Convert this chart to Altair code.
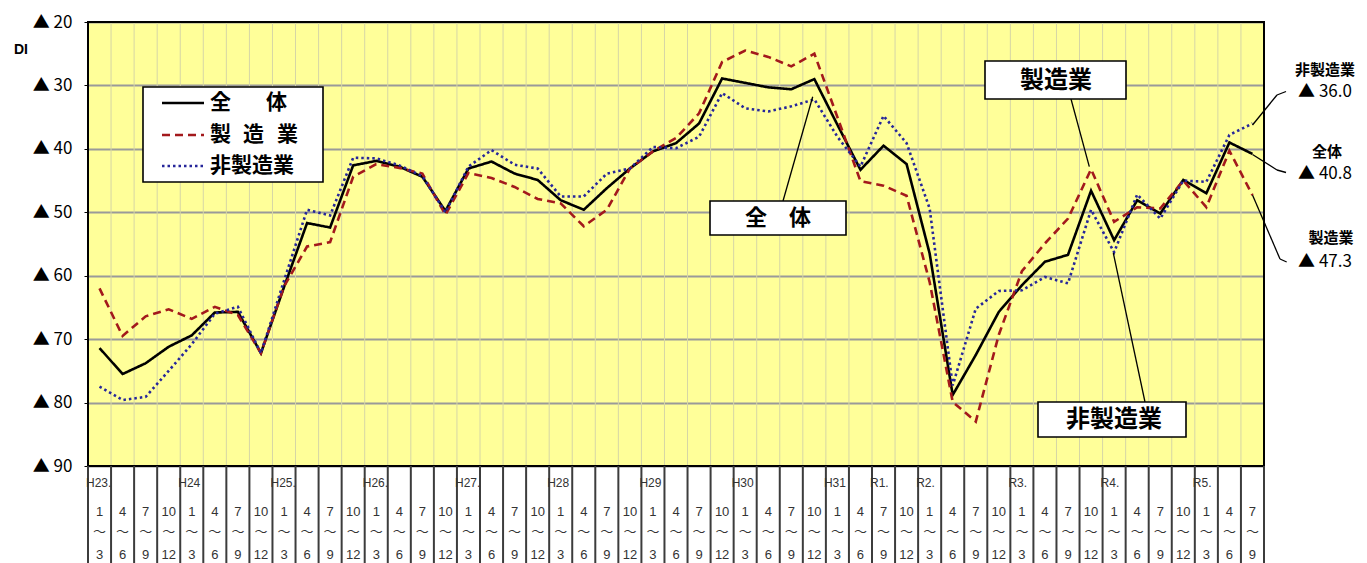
import altair as alt
import pandas as pd

# ---- data -------------------------------------------------------------
series_names = ["全体", "製造業", "非製造業"]

period_start = ["1", "4", "7", "10"] * 12 + ["1", "4", "7"]
period_end = ["3", "6", "9", "12"] * 12 + ["3", "6", "9"]
era_labels = ["H23.", "", "", "", "H24", "", "", "", "H25.", "", "", "", "H26.", "", "", "",
              "H27.", "", "", "", "H28", "", "", "", "H29", "", "", "", "H30", "", "", "",
              "H31", "", "R1.", "", "R2.", "", "", "", "R3.", "", "", "", "R4.", "", "", "",
              "R5.", "", ""]

overall = [71.4, 75.5, 73.8, 71.2, 69.4, 65.8, 65.7, 72.2, 61.8, 51.7, 52.4, 42.6, 41.9,
           42.8, 44.4, 49.8, 43.1, 42.0, 43.9, 44.9, 48.1, 49.6, 46.2, 43.1, 40.4, 39.1,
           36.0, 28.9, 29.6, 30.3, 30.6, 29.0, 36.2, 43.3, 39.5, 42.4, 56.5, 78.8, 72.5,
           65.7, 61.5, 57.8, 56.7, 46.6, 54.4, 48.1, 50.2, 44.9, 47.0, 39.0, 40.8]
manufacturing = [62.0, 69.5, 66.4, 65.3, 66.8, 64.9, 66.2, 72.2, 61.7, 55.4, 54.7, 44.4, 42.4,
                 43.0, 43.9, 50.4, 43.8, 44.6, 46.0, 47.9, 48.6, 52.2, 49.6, 43.1, 40.4, 38.3,
                 34.4, 26.3, 24.5, 25.5, 27.0, 25.0, 35.0, 45.1, 45.8, 47.4, 61.0, 79.9, 83.0,
                 69.3, 59.3, 54.9, 51.0, 43.2, 51.5, 49.2, 49.4, 45.0, 49.2, 40.3, 47.3]
non_manufacturing = [77.5, 79.6, 79.1, 75.0, 70.8, 66.0, 64.9, 72.2, 60.8, 49.6, 50.5, 41.4, 41.5,
                     42.6, 44.3, 50.0, 42.8, 40.2, 42.5, 43.1, 47.5, 47.5, 43.9, 43.1, 39.7, 39.9,
                     38.1, 31.2, 33.6, 34.1, 33.3, 32.2, 38.1, 42.8, 34.8, 39.1, 49.4, 77.3, 65.2,
                     62.4, 62.3, 60.2, 61.2, 49.6, 56.3, 47.2, 51.0, 45.0, 45.2, 37.8, 36.0]
y_ticks = [20, 30, 40, 50, 60, 70, 80, 90]

# ---- frames -----------------------------------------------------------
n = len(overall)
idx = list(range(n))
df = pd.DataFrame({
    "i": idx * 3,
    "v": overall + manufacturing + non_manufacturing,
    "s": [series_names[0]] * n + [series_names[1]] * n + [series_names[2]] * n,
})
lab = pd.DataFrame({"i": idx, "a": period_start, "b": period_end, "era": era_labels})
bounds_all = pd.DataFrame({"b": [k - 0.5 for k in range(n + 1)]})
bounds_in = pd.DataFrame({"b": [k + 0.5 for k in range(n - 1)]})
one = pd.DataFrame({"k": [0]})

W, H = 1176, 444
JP = "Noto Sans CJK JP"
LAT = "Liberation Sans, Noto Sans CJK JP"
TRI = "Noto Sans CJK JP, Liberation Sans"
BLACK, RED, BLUE = "#000000", "#A3191C", "#26269A"
DASH = {BLACK: [1, 0], RED: [8, 5], BLUE: [2.5, 3]}

xs = alt.Scale(domain=[-0.5, n - 0.5], nice=False, zero=False)
ys = alt.Scale(domain=[20, 90], reverse=True, nice=False, zero=False)

yax = alt.Axis(values=y_ticks, labelExpr="'▲ ' + datum.value", labelFont=TRI,
               labelFontSize=17, labelColor="#000", labelPadding=12, labelOverlap=False,
               tickSize=4, tickColor="#000", tickWidth=1, domain=False, grid=True,
               gridColor="#9a9a9a", gridWidth=2, title=None)


def series_layer(name, color):
    return alt.Chart(df).transform_filter(alt.datum.s == name).mark_line(
        color=color, strokeWidth=2.6, strokeDash=DASH[color]
    ).encode(
        x=alt.X("i:Q", scale=xs, axis=None),
        y=alt.Y("v:Q", scale=ys, axis=yax),
    )


def seg(x1, y1, x2, y2, w=1.3):
    return alt.Chart(one).mark_rule(color="#000", strokeWidth=w).encode(
        x=alt.value(x1), y=alt.value(y1), x2=alt.value(x2), y2=alt.value(y2))


def sample(x1, x2, y, color):
    return alt.Chart(one).mark_rule(color=color, strokeWidth=2.6, strokeDash=DASH[color]).encode(
        x=alt.value(x1), y=alt.value(y), x2=alt.value(x2), y2=alt.value(y))


def box(x1, y1, x2, y2):
    return alt.Chart(one).mark_rect(fill="white", stroke="#000", strokeWidth=1.6).encode(
        x=alt.value(x1), x2=alt.value(x2), y=alt.value(y1), y2=alt.value(y2))


def txt(x, y, s, size, font=JP, weight="bold", align="center", color="#000"):
    return alt.Chart(one).mark_text(text=s, fontSize=size, font=font, fontWeight=weight,
                                    align=align, baseline="middle", color=color).encode(
        x=alt.value(x), y=alt.value(y))


# plot-area vertical faint grid
vgrid = alt.Chart(bounds_in).mark_rule(color="#d6d6a6", strokeWidth=1).encode(
    x=alt.X("b:Q", scale=xs, axis=None), y=alt.value(0), y2=alt.value(H))

lines = [series_layer(series_names[0], BLACK),
         series_layer(series_names[1], RED),
         series_layer(series_names[2], BLUE)]

border = alt.Chart(one).mark_rect(filled=False, stroke="#000", strokeWidth=2).encode(
    x=alt.value(0), x2=alt.value(W), y=alt.value(0), y2=alt.value(H))

# table below the plot
seps = alt.Chart(bounds_all).mark_rule(color="#3c3c3c", strokeWidth=2).encode(
    x=alt.X("b:Q", scale=xs, axis=None), y=alt.value(H), y2=alt.value(H + 97))
lab_base = alt.Chart(lab).encode(x=alt.X("i:Q", scale=xs, axis=None))
row_a = lab_base.mark_text(fontSize=13, font=LAT, color="#333").encode(
    y=alt.value(H + 46), text="a:N")
row_t = lab_base.mark_text(fontSize=13, font=JP, color="#333", text="～").encode(
    y=alt.value(H + 66))
row_b = lab_base.mark_text(fontSize=13, font=LAT, color="#333").encode(
    y=alt.value(H + 89), text="b:N")
row_era = lab_base.transform_filter(alt.datum.era != "").mark_text(
    fontSize=12, font=LAT, color="#333", align="left", dx=-13.5).encode(
    y=alt.value(H + 17), text="era:N")

# legend
legend = [
    box(55, 65, 235, 160),
    sample(74, 116, 81, BLACK), sample(74, 116, 113, RED), sample(74, 116, 144, BLUE),
    txt(122, 81, "全", 21, align="left"), txt(178, 81, "体", 21, align="left"),
    txt(122, 113, "製", 21, align="left"), txt(155, 113, "造", 21, align="left"),
    txt(189, 113, "業", 21, align="left"),
    txt(122, 144, "非製造業", 21, align="left"),
]

# callouts
callouts = [
    seg(695, 179, 724.7, 74.7), box(622, 179, 758, 213), txt(690, 196, "全　体", 22),
    seg(983, 77, 1001.3, 144.7), box(897, 39, 1038, 77), txt(968, 59, "製造業", 24),
    seg(1057, 380, 1025.3, 231), box(950, 380, 1098, 415), txt(1026, 398, "非製造業", 24),
]

# right side labels
right = [
    seg(1164.5, 103, 1189, 73), seg(1189, 73, 1198, 69.5),
    txt(1237, 48, "非製造業", 15), txt(1237, 70, "▲ 36.0", 17, font=TRI, weight="normal"),
    seg(1164.5, 132.5, 1189, 148), seg(1189, 148, 1198, 150.5),
    txt(1239, 129.5, "全体", 15), txt(1237, 151.5, "▲ 40.8", 17, font=TRI, weight="normal"),
    seg(1164.5, 173, 1192, 237), seg(1192, 237, 1198.7, 240),
    txt(1243, 216, "製造業", 15), txt(1237, 240, "▲ 47.3", 17, font=TRI, weight="normal"),
]

di = txt(-67, 28, "DI", 14, font=LAT)

chart = alt.layer(
    vgrid, *lines, border, seps, row_a, row_t, row_b, row_era,
    *legend, *callouts, *right, di
).properties(
    width=W, height=H,
    autosize=alt.AutoSizeParams(type="none"),
    padding={"left": 80, "top": 14, "right": 95, "bottom": 97},
    background="white",
).configure_view(fill="#FFFF99", stroke=None)

chart.save("out.html", embed_options={"renderer": "svg", "actions": False})
